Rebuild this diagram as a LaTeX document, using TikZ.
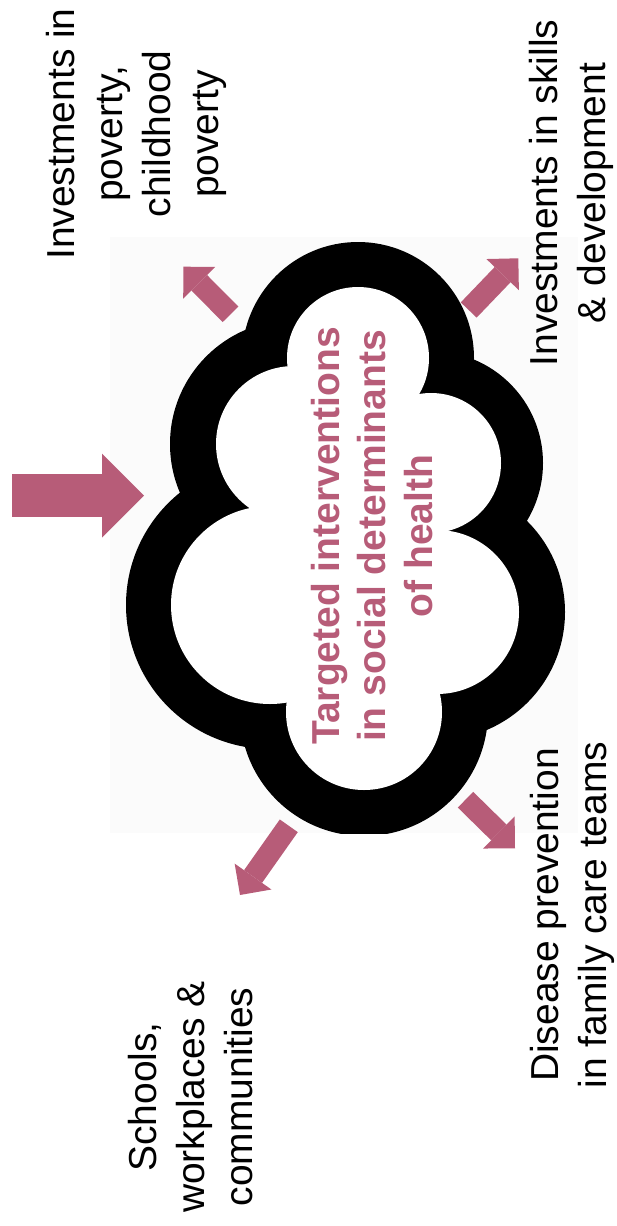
\documentclass[tikz,border=0pt]{standalone}
\usepackage{fontspec}
\setmainfont{Liberation Sans}
\usetikzlibrary{arrows.meta,positioning}
\definecolor{rosepink}{RGB}{183,92,120}
\definecolor{panelgray}{RGB}{251,251,251}

\begin{document}
\begin{tikzpicture}
  [x=1pt,y=-1pt,
   every node/.style={inner sep=0pt,align=center,rotate=90,anchor=north,font=\fontsize{39}{48}\selectfont},
   pointer/.style={rosepink,line width=22pt,-{Triangle[length=22.6pt,width=45pt,line width=0pt]}},
   bigpointer/.style={rosepink,line width=43pt,-{Triangle[length=42pt,width=84pt,line width=0pt]}}]
  \useasboundingbox (0,0) rectangle (616,1226);
  \fill[panelgray] (110,237) rectangle (578,833);

  % cloud: black lobes, then white lobes on top
  \begin{scope}
    \clip (110,237) rectangle (578,833);
    \foreach \cx/\cy/\r in {358/358/116, 294/444/124, 270/605/144, 364/712/124, 437/612/128, 431/463/112}
      \fill[black] (\cx,\cy) circle (\r pt);
    \foreach \cx/\cy/\r in {358/358/71, 294/444/78, 270/605/99, 364/712/78, 437/612/82, 431/463/70}
      \fill[white] (\cx,\cy) circle (\r pt);
    \fill[white] (358,358) -- (431,463) -- (437,612) -- (364,712) -- (270,605) -- (294,444) -- cycle;
  \end{scope}

  \node[text=rosepink,font=\bfseries\fontsize{39}{46.5}\selectfont] (target) at (311,536)
    {Targeted interventions\\in social determinants\\of health};

  \node (poverty) at (46,134) {Investments in\\poverty,\\childhood\\poverty};
  \node (skills) at (529,193) {Investments in skills\\\& development};
  \node (prevention) at (530,915) {Disease prevention\\in family care teams};
  \node (schools) at (128,1097) {Schools,\\workplaces \&\\communities};

  \coordinate (bigTail) at (12,495.5);
  \coordinate (bigTip) at (144,495.5);
  \coordinate (ulTail) at (230.5,314.3);
  \coordinate (ulTip) at (183.3,266.7);
  \coordinate (urTail) at (468.7,310);
  \coordinate (urTip) at (518.3,258.3);
  \coordinate (llTail) at (288.8,825.8);
  \coordinate (llTip) at (240,895);
  \coordinate (lrTail) at (465.5,799.7);
  \coordinate (lrTip) at (515,848.3);

  \draw[bigpointer] (bigTail) -- (bigTip);
  \foreach \from/\to in {ulTail/ulTip, urTail/urTip, llTail/llTip, lrTail/lrTip}
    \draw[pointer] (\from) -- (\to);
\end{tikzpicture}
\end{document}
